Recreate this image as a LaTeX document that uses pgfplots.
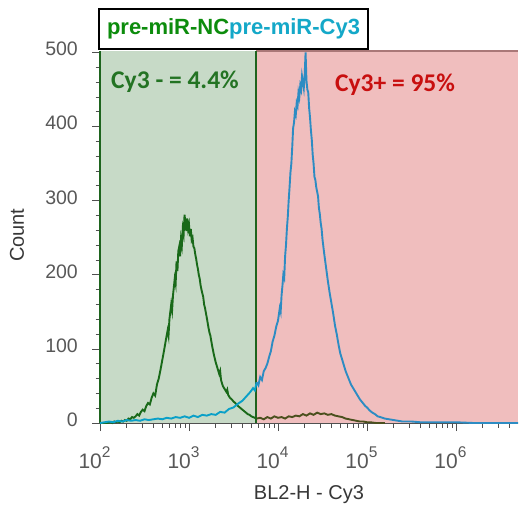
\documentclass[border=0pt]{standalone}
\usepackage{pgfplots}
\usepackage{pgfplotstable}
\pgfplotsset{compat=1.18}
\usepackage{fontspec}
\setmainfont{Liberation Sans}
\newfontfamily\carlito{Carlito}
\definecolor{gfill}{RGB}{199,218,199}
\definecolor{rfill}{RGB}{240,190,190}
\definecolor{gline}{RGB}{30,100,30}
\definecolor{rline}{RGB}{170,120,120}
\definecolor{ncA}{RGB}{25,105,25}
\definecolor{ncB}{RGB}{75,80,30}
\definecolor{cyA}{RGB}{10,160,200}
\definecolor{cyB}{RGB}{45,140,195}
\definecolor{axgray}{RGB}{80,80,80}
\definecolor{tkgray}{RGB}{88,88,88}
\definecolor{lbgray}{RGB}{55,55,55}
\definecolor{gtext}{RGB}{35,115,35}
\definecolor{rtext}{RGB}{200,15,15}
\definecolor{legG}{RGB}{12,140,12}
\definecolor{legC}{RGB}{20,168,200}
\newcommand{\ex}[1]{10\raisebox{11pt}{\fontsize{15.5}{16}\selectfont #1}}

\pgfplotstableread{
e c
2.00 0
2.04 0
2.08 0
2.12 1
2.14 0
2.16 2
2.18 1
2.20 2
2.22 1
2.24 3
2.26 2
2.28 4
2.30 3
2.32 6
2.34 5
2.36 8
2.38 7
2.40 9
2.42 12
2.44 10
2.46 15
2.48 18
2.50 16
2.52 23
2.54 27
2.56 25
2.58 34
2.60 40
2.62 37
2.64 52
2.66 60
2.68 72
2.70 85
2.72 98
2.74 112
2.76 125
2.77 118
2.78 140
2.80 160
2.81 152
2.82 172
2.84 195
2.85 188
2.86 218
2.87 205
2.88 232
2.89 238
2.90 225
2.91 248
2.92 240
2.93 262
2.94 255
2.95 281
2.96 270
2.97 259
2.98 276
2.99 262
3.00 268
3.01 252
3.02 262
3.03 247
3.04 250
3.05 238
3.06 236
3.07 228
3.08 222
3.09 214
3.10 208
3.11 200
3.12 195
3.13 186
3.14 180
3.16 170
3.17 160
3.18 155
3.20 142
3.22 128
3.23 122
3.24 118
3.26 104
3.28 92
3.30 82
3.32 74
3.34 66
3.35 70
3.36 58
3.38 50
3.40 46
3.42 42
3.43 45
3.44 38
3.46 34
3.48 32
3.50 29
3.52 27
3.54 24
3.56 22
3.58 20
3.60 18
3.62 16
3.64 14
3.66 12
3.68 11
3.70 9
3.72 8
3.74 7
3.76 6
3.80 7
3.84 5
3.88 8
3.92 6
3.96 9
4.00 7
4.04 8
4.08 6
4.12 9
4.16 8
4.20 10
4.24 9
4.28 12
4.32 10
4.36 13
4.40 11
4.44 14
4.48 12
4.52 13
4.56 11
4.60 12
4.64 10
4.68 9
4.72 8
4.76 6
4.80 5
4.84 4
4.88 3
4.92 2
4.96 2
5.00 1
5.04 1
5.10 0
5.20 0
}\ncdata

\pgfplotstableread{
e c
2.00 0
2.05 1
2.10 2
2.15 1
2.20 3
2.25 2
2.30 4
2.35 3
2.40 4
2.45 3
2.50 5
2.55 4
2.60 5
2.65 6
2.70 5
2.75 7
2.80 6
2.85 8
2.90 7
2.95 9
3.00 7
3.05 10
3.10 8
3.15 11
3.20 10
3.25 12
3.30 11
3.35 15
3.40 14
3.45 19
3.50 21
3.55 26
3.60 30
3.63 34
3.66 38
3.69 42
3.72 47
3.74 44
3.76 55
3.78 51
3.80 62
3.82 58
3.84 70
3.86 74
3.88 80
3.90 89
3.92 97
3.94 110
3.96 118
3.98 130
4.00 138
4.02 155
4.03 150
4.04 172
4.05 185
4.06 200
4.07 196
4.08 225
4.09 240
4.10 262
4.11 278
4.12 300
4.13 318
4.14 338
4.15 350
4.16 372
4.17 398
4.18 405
4.19 420
4.20 416
4.21 432
4.22 428
4.23 446
4.24 440
4.25 455
4.26 450
4.27 468
4.28 460
4.29 452
4.30 470
4.31 500
4.32 462
4.33 450
4.34 446
4.35 425
4.36 412
4.37 395
4.38 382
4.39 362
4.40 350
4.41 332
4.42 328
4.43 318
4.44 312
4.45 306
4.46 290
4.47 282
4.48 270
4.49 262
4.50 248
4.52 228
4.54 210
4.56 192
4.58 176
4.60 162
4.62 148
4.64 132
4.66 120
4.68 106
4.70 94
4.72 86
4.74 78
4.76 70
4.78 64
4.80 58
4.82 52
4.84 48
4.86 44
4.88 40
4.90 36
4.92 32
4.94 29
4.96 26
4.98 23
5.00 21
5.03 17
5.06 14
5.09 12
5.12 9
5.15 8
5.20 6
5.25 5
5.30 4
5.35 3
5.40 2
5.50 2
5.60 1
5.80 1
6.00 1
6.20 0
6.697 0
}\cydata

\begin{document}
\begin{tikzpicture}
\begin{axis}[
  scale only axis, width=418pt, height=372pt,
  xmin=2, xmax=6.697, ymin=0, ymax=502,
  clip=false,
  axis x line*=bottom, axis y line*=left,
  axis line style={draw=axgray, line width=0.8pt, -},
  tick align=outside,
  major tick length=8pt, minor tick length=4.5pt,
  tick style={draw=axgray, line width=0.8pt},
  xtick={2,3,4,5,6},
  xticklabels={\ex{2},\ex{3},\ex{4},\ex{5},\ex{6}},
  minor xtick={2.30103,2.47712,2.60206,2.69897,2.77815,2.84510,2.90309,2.95424,
    3.30103,3.47712,3.60206,3.69897,3.77815,3.84510,3.90309,3.95424,
    4.30103,4.47712,4.60206,4.69897,4.77815,4.84510,4.90309,4.95424,
    5.30103,5.47712,5.60206,5.69897,5.77815,5.84510,5.90309,5.95424,
    6.30103,6.47712,6.60206},
  ytick={0,100,200,300,400,500},
  minor ytick={20,40,60,80,120,140,160,180,220,240,260,280,320,340,360,380,420,440,460,480},
  /pgf/number format/assume math mode=true,
  xticklabel style={font=\fontsize{21}{24}\selectfont, text=tkgray, inner sep=0pt, anchor=base, yshift=-37pt, xshift=-5.5pt},
  yticklabel style={font=\fontsize{19.5}{22}\selectfont, text=tkgray, inner sep=0pt, anchor=east, xshift=-14pt, yshift=3.3pt},
  xlabel={BL2-H - Cy3},
  ylabel={Count},
  xlabel style={font=\fontsize{20}{24}\selectfont, text=lbgray, at={(axis description cs:0.5,-0.1935)}, anchor=center},
  ylabel style={font=\fontsize{20}{24}\selectfont, text=lbgray, at={(axis description cs:-0.1986,0.505)}, anchor=center},
]
\coordinate (sw) at (rel axis cs:0,0);
\coordinate (ne) at (rel axis cs:1,1);
% gates
\addplot[draw=none, fill=gfill] coordinates {(2,502) (3.753,502)} \closedcycle;
\addplot[draw=none, fill=rfill] coordinates {(3.753,502) (6.697,502)} \closedcycle;
\addplot[rline, line width=1.4pt] coordinates {(3.753,502) (6.697,502)};
\addplot[gline, line width=2.8pt] coordinates {(2,0) (2,502)};
\addplot[gline, line width=2.5pt] coordinates {(3.753,0) (3.753,502)};
% histograms
\addplot[ncA, line width=1.9pt, restrict x to domain=2:3.761] table[x=e, y=c] {\ncdata};
\addplot[ncB, line width=1.9pt, restrict x to domain=3.759:7] table[x=e, y=c] {\ncdata};
\addplot[cyA, line width=1.9pt, restrict x to domain=2:3.761] table[x=e, y=c] {\cydata};
\addplot[cyB, line width=1.9pt, restrict x to domain=3.759:7] table[x=e, y=c] {\cydata};
% gate labels
\node[font=\carlito\bfseries\fontsize{25.5}{30}\selectfont, text=gtext] at (axis cs:2.843,460) {Cy3 - = 4.4\%};
\node[font=\carlito\bfseries\fontsize{25.5}{30}\selectfont, text=rtext] at (axis cs:5.315,457) {Cy3+ = 95\%};
\end{axis}
\node[draw=black, line width=2pt, fill=white, anchor=south west, inner xsep=8pt, inner ysep=0pt, minimum height=40pt,
  font=\bfseries\fontsize{22}{26}\selectfont] at ([shift={(-2pt,1pt)}]sw |- ne)
  {\textcolor{legG}{pre-miR-NC}\textcolor{legC}{pre-miR-Cy3}};
\pgfresetboundingbox
\path[use as bounding box] ([shift={(-100pt,-83pt)}]sw) rectangle ([shift={(2pt,51pt)}]ne);
\end{tikzpicture}
\end{document}
